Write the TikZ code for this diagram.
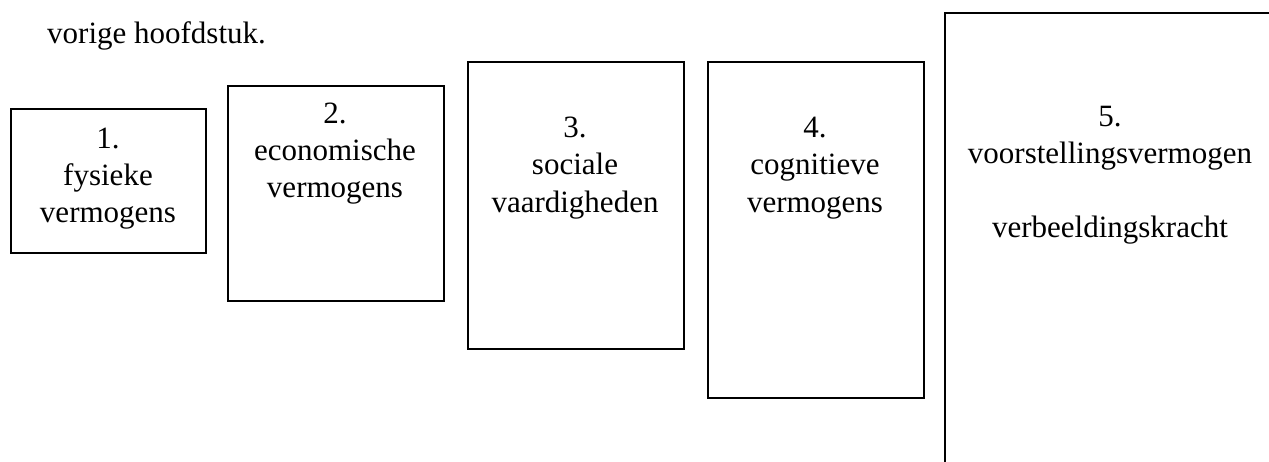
\documentclass[tikz,border=0pt]{standalone}
\usepackage{fontspec}
\setmainfont{Liberation Serif}
\begin{document}
\begin{tikzpicture}[x=1pt,y=-1pt,
  box/.style={draw=black, line width=1.5pt, rectangle, inner sep=0pt, anchor=north west},
  txt/.style={inner sep=0pt, anchor=base, font=\fontsize{31}{37}\selectfont}]
\useasboundingbox (0,0) rectangle (1269,461);
\clip (0,0) rectangle (1269,461);
\node[txt, anchor=base west] (intro) at (47,43) {vorige hoofdstuk.};
% boxes
\node[box, minimum width=195pt, minimum height=144pt] (b1) at (10,108) {};
\node[box, minimum width=216pt, minimum height=215pt] (b2) at (227,85) {};
\node[box, minimum width=216pt, minimum height=287pt] (b3) at (467,61) {};
\node[box, minimum width=216pt, minimum height=336pt] (b4) at (707,61) {};
\node[box, minimum width=332pt, minimum height=470pt] (b5) at (944,12) {};
% box 1
\node[txt] (t1a) at (108,148) {1.};
\node[txt] (t1b) at (108,185) {fysieke};
\node[txt] (t1c) at (108,222) {vermogens};
% box 2
\node[txt] (t2a) at (335,123) {2.};
\node[txt] (t2b) at (335,160) {economische};
\node[txt] (t2c) at (335,197) {vermogens};
% box 3
\node[txt] (t3a) at (575,137) {3.};
\node[txt] (t3b) at (575,174) {sociale};
\node[txt] (t3c) at (575,212) {vaardigheden};
% box 4
\node[txt] (t4a) at (815,137) {4.};
\node[txt] (t4b) at (815,174) {cognitieve};
\node[txt] (t4c) at (815,212) {vermogens};
% box 5
\node[txt] (t5a) at (1110,126) {5.};
\node[txt] (t5b) at (1110,163) {voorstellingsvermogen};
\node[txt] (t5c) at (1110,237) {verbeeldingskracht};
\end{tikzpicture}
\end{document}
